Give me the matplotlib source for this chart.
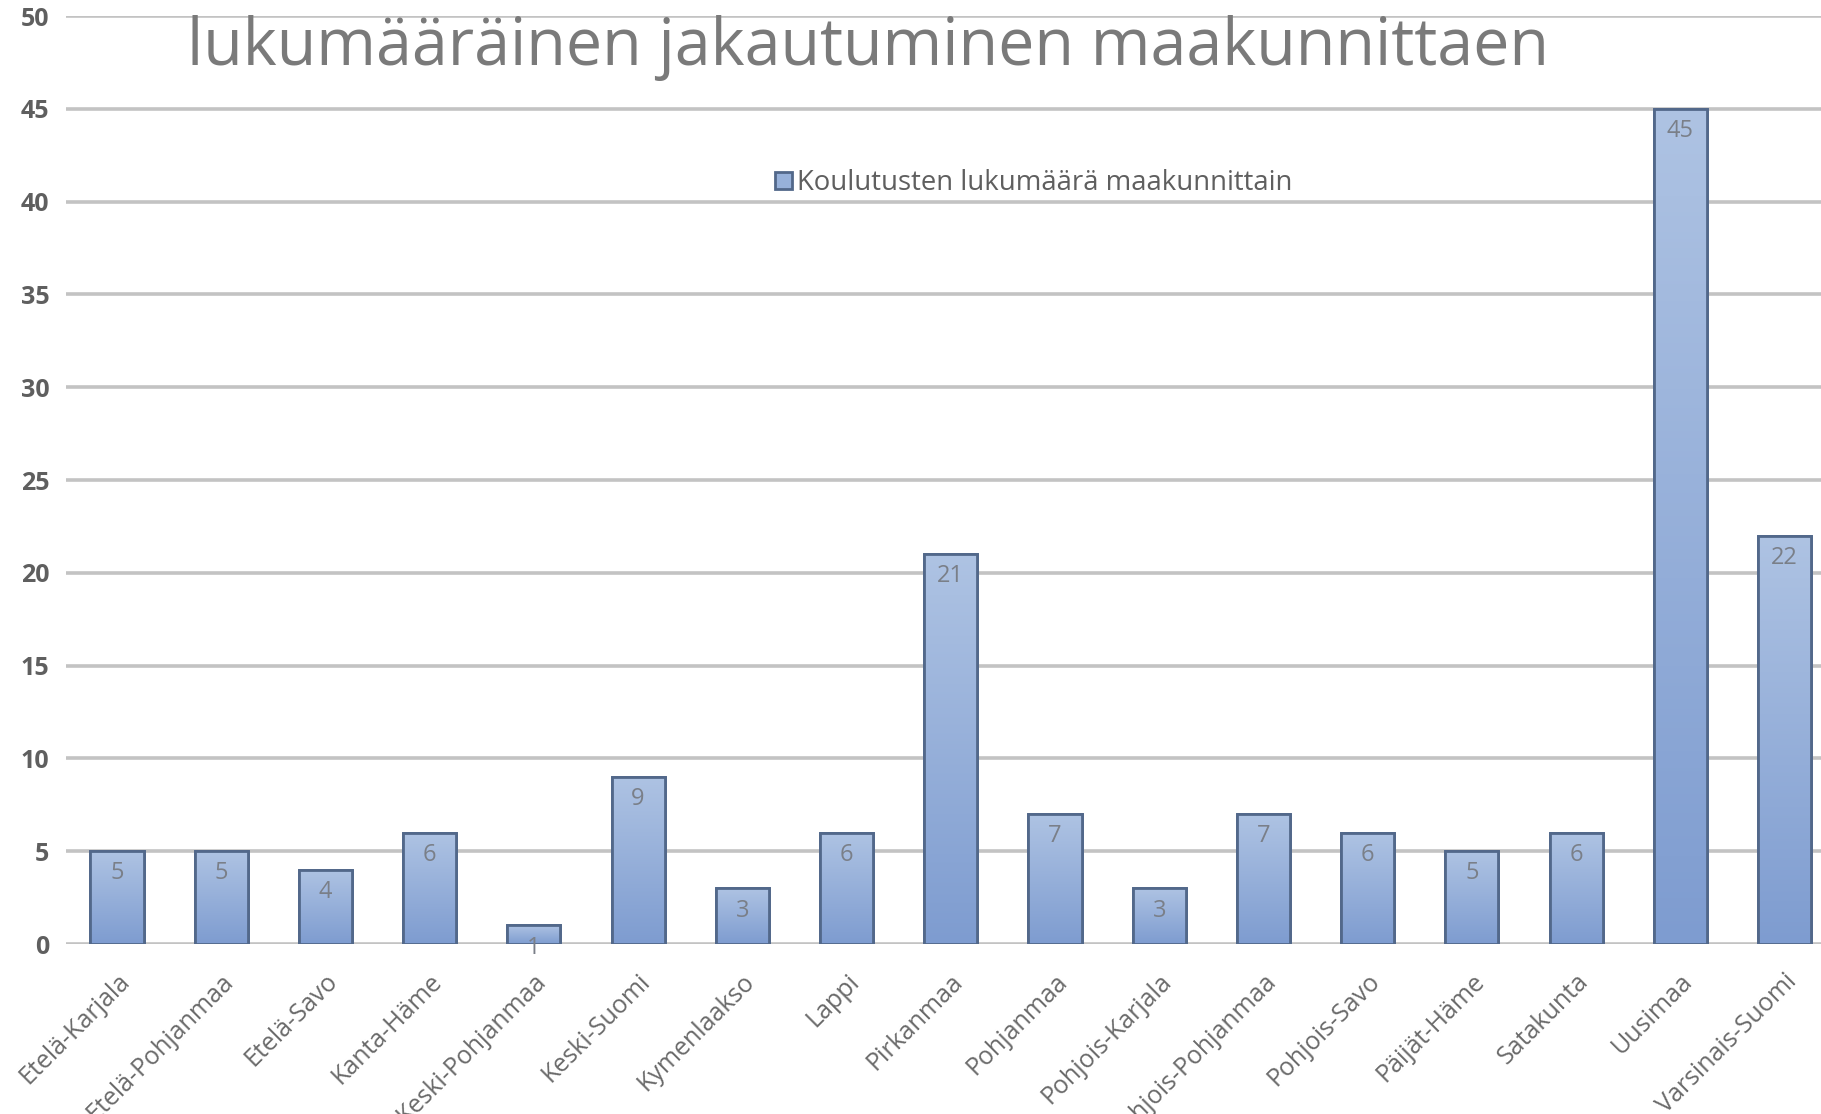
import numpy as np
import matplotlib
matplotlib.use("Agg")
import matplotlib.pyplot as plt

# Data --------------------
regions = ["Etelä-Karjala", "Etelä-Pohjanmaa", "Etelä-Savo", "Kanta-Häme",
           "Keski-Pohjanmaa", "Keski-Suomi", "Kymenlaakso", "Lappi",
           "Pirkanmaa", "Pohjanmaa", "Pohjois-Karjala", "Pohjois-Pohjanmaa",
           "Pohjois-Savo", "Päijät-Häme", "Satakunta", "Uusimaa",
           "Varsinais-Suomi"]
counts = [5, 5, 4, 6, 1, 9, 3, 6, 21, 7, 3, 7, 6, 5, 6, 45, 22]
yticks = list(range(0, 51, 5))
title = "lukumääräinen jakautuminen maakunnittaen"
series_name = "Koulutusten lukumäärä maakunnittain"

plt.rcParams['font.family'] = ['Open Sans', 'DejaVu Sans']

fig = plt.figure(figsize=(18.21, 11.14), dpi=100)
ax = fig.add_axes([0.0362, 0.1526, 0.9638, 0.833])

x = np.arange(len(regions))
bars = ax.bar(x, counts, width=0.51, color='#97b1da', edgecolor='#52688a',
              linewidth=2.0, zorder=3, label=series_name)

# gradient fill clipped to each bar
grad = np.linspace(0, 1, 256).reshape(-1, 1)
cmap = matplotlib.colors.LinearSegmentedColormap.from_list(
    'bar', ['#aec3e3', '#7e9cd0'])
for b in bars:
    x0, w, h = b.get_x(), b.get_width(), b.get_height()
    im = ax.imshow(grad, extent=[x0, x0 + w, 0, h], aspect='auto',
                   cmap=cmap, origin='upper', zorder=3.5)
    im.set_clip_path(b)
    ax.add_patch(plt.Rectangle((x0, 0), w, h, fill=False,
                               edgecolor='#52688a', linewidth=2.0, zorder=4))

for xi, v in zip(x, counts):
    ax.annotate(str(v), xy=(xi, v), xytext=(0, -16), textcoords='offset points',
                ha='center', va='center', fontsize=17, color='#7a7f88', zorder=5)

ax.set_xlim(-0.49, 16.35)
ax.set_ylim(0, 50)
ax.set_yticks(yticks)
ax.yaxis.grid(True, color='#c3c3c3', linewidth=2.6, zorder=0)
ax.set_axisbelow(True)
for s in ax.spines.values():
    s.set_visible(False)
ax.tick_params(axis='both', length=0, colors='#5f5f5f', labelsize=18)
ax.tick_params(axis='y', pad=12)
for lab in ax.get_yticklabels():
    lab.set_fontweight('bold')
ax.set_xticks(x)
ax.set_xticklabels(regions, rotation=45, ha='right', rotation_mode='anchor',
                   fontsize=18, color='#6a6a6a')
ax.tick_params(axis='x', pad=18)

ax.text(0.457, 0.966, title, transform=ax.transAxes, ha='center', va='center',
        fontsize=46.5, color='#7a7a7a')

leg = ax.legend(loc='center left', bbox_to_anchor=(0.39, 0.82), frameon=False,
                fontsize=19.8, handlelength=0.6, handleheight=0.6,
                handletextpad=0.2, labelcolor='#5f5f5f')

fig.savefig("out.png", dpi=100)
